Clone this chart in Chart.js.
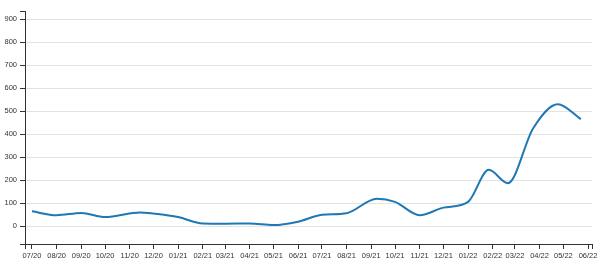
<!DOCTYPE html>
<html>
<head>
<meta charset="utf-8">
<script src="https://cdn.jsdelivr.net/npm/chart.js@4"></script>
<style>
  html, body { margin: 0; padding: 0; background: #fff; }
  #wrap { width: 602px; height: 269px; }
</style>
</head>
<body>
<div id="wrap"><canvas id="trendChart"></canvas></div>
<script>
// Values
const pointDates = [
    "2020-07-01", "2020-08-01", "2020-09-01", "2020-10-01", "2020-11-14",
    "2020-12-01", "2021-01-01", "2021-02-01", "2021-03-01", "2021-04-01",
    "2021-05-01", "2021-06-01", "2021-07-01", "2021-08-01", "2021-09-08",
    "2021-10-01", "2021-11-01", "2021-12-01", "2022-01-01", "2022-01-27",
    "2022-02-20", "2022-03-24", "2022-04-24", "2022-05-23",
];
const pointValues = [
    65, 48, 58, 40, 60,
    55, 40, 12, 11, 12,
    5, 20, 50, 57, 120,
    106, 48, 81, 106, 245,
    187, 426, 530, 465,
];
const xTickLabels = [
    "07/20", "08/20", "09/20", "10/20", "11/20", "12/20",
    "01/21", "02/21", "03/21", "04/21", "05/21", "06/21",
    "07/21", "08/21", "09/21", "10/21", "11/21", "12/21",
    "01/22", "02/22", "03/22", "04/22", "05/22", "06/22",
];
const yTickValues = [0, 100, 200, 300, 400, 500, 600, 700, 800, 900];

const DAY = 86400000;
const origin = Date.UTC(2020, 6, 1);
const dayOf = (str) => (Date.parse(str) - origin) / DAY;
const labelDay = (lbl) => {
    const m = parseInt(lbl.slice(0, 2), 10) - 1;
    const y = 2000 + parseInt(lbl.slice(3), 10);
    return (Date.UTC(y, m, 1) - origin) / DAY;
};

const X_MIN = -8.8, X_MAX = 705;
const Y_MIN = -77, Y_MAX = 935;

const axisColor = "#333";
const gridColor = "#e3e3e3";
const font = { family: "'Liberation Sans', Arial, sans-serif", size: 7.5 };

const ctx = document.getElementById("trendChart").getContext("2d");

new Chart(ctx, {
    type: "line",
    data: {
        datasets: [
            {
                data: pointDates.map((d, i) => ({ x: dayOf(d), y: pointValues[i] })),
                borderColor: "#1f77b4",
                borderWidth: 2,
                pointRadius: 0,
                fill: false,
                cubicInterpolationMode: "monotone",
            },
        ],
    },
    options: {
        responsive: true,
        maintainAspectRatio: false,
        animation: false,
        layout: { padding: { top: 11, right: 10, left: 0, bottom: 0 } },
        plugins: { legend: { display: false }, tooltip: { enabled: false } },
        scales: {
            x: {
                type: "linear",
                min: X_MIN,
                max: X_MAX,
                afterBuildTicks: (scale) => {
                    scale.ticks = [{ value: X_MIN }]
                        .concat(xTickLabels.map((l) => ({ value: labelDay(l) })))
                        .concat([{ value: X_MAX }]);
                },
                afterFit: (scale) => { scale.height = 25; },
                ticks: {
                    autoSkip: false,
                    maxRotation: 0,
                    padding: 2,
                    color: axisColor,
                    font: font,
                    callback: (value, index) =>
                        index >= 1 && index <= xTickLabels.length ? xTickLabels[index - 1] : "",
                },
                grid: {
                    drawOnChartArea: false,
                    drawTicks: true,
                    tickLength: 5,
                    tickColor: axisColor,
                },
                border: { display: true, color: axisColor, width: 1 },
            },
            y: {
                min: Y_MIN,
                max: Y_MAX,
                afterBuildTicks: (scale) => {
                    scale.ticks = [{ value: Y_MIN }]
                        .concat(yTickValues.map((v) => ({ value: v })))
                        .concat([{ value: Y_MAX }]);
                },
                afterFit: (scale) => { scale.width = 25; },
                ticks: {
                    padding: 3,
                    color: axisColor,
                    font: font,
                    callback: (value) => (yTickValues.includes(value) ? String(value) : ""),
                },
                grid: {
                    drawTicks: true,
                    tickLength: 5,
                    tickColor: axisColor,
                    color: (c) => (c.tick && yTickValues.includes(c.tick.value) ? gridColor : "rgba(0,0,0,0)"),
                },
                border: { display: true, color: axisColor, width: 1 },
            },
        },
    },
});
</script>
</body>
</html>
